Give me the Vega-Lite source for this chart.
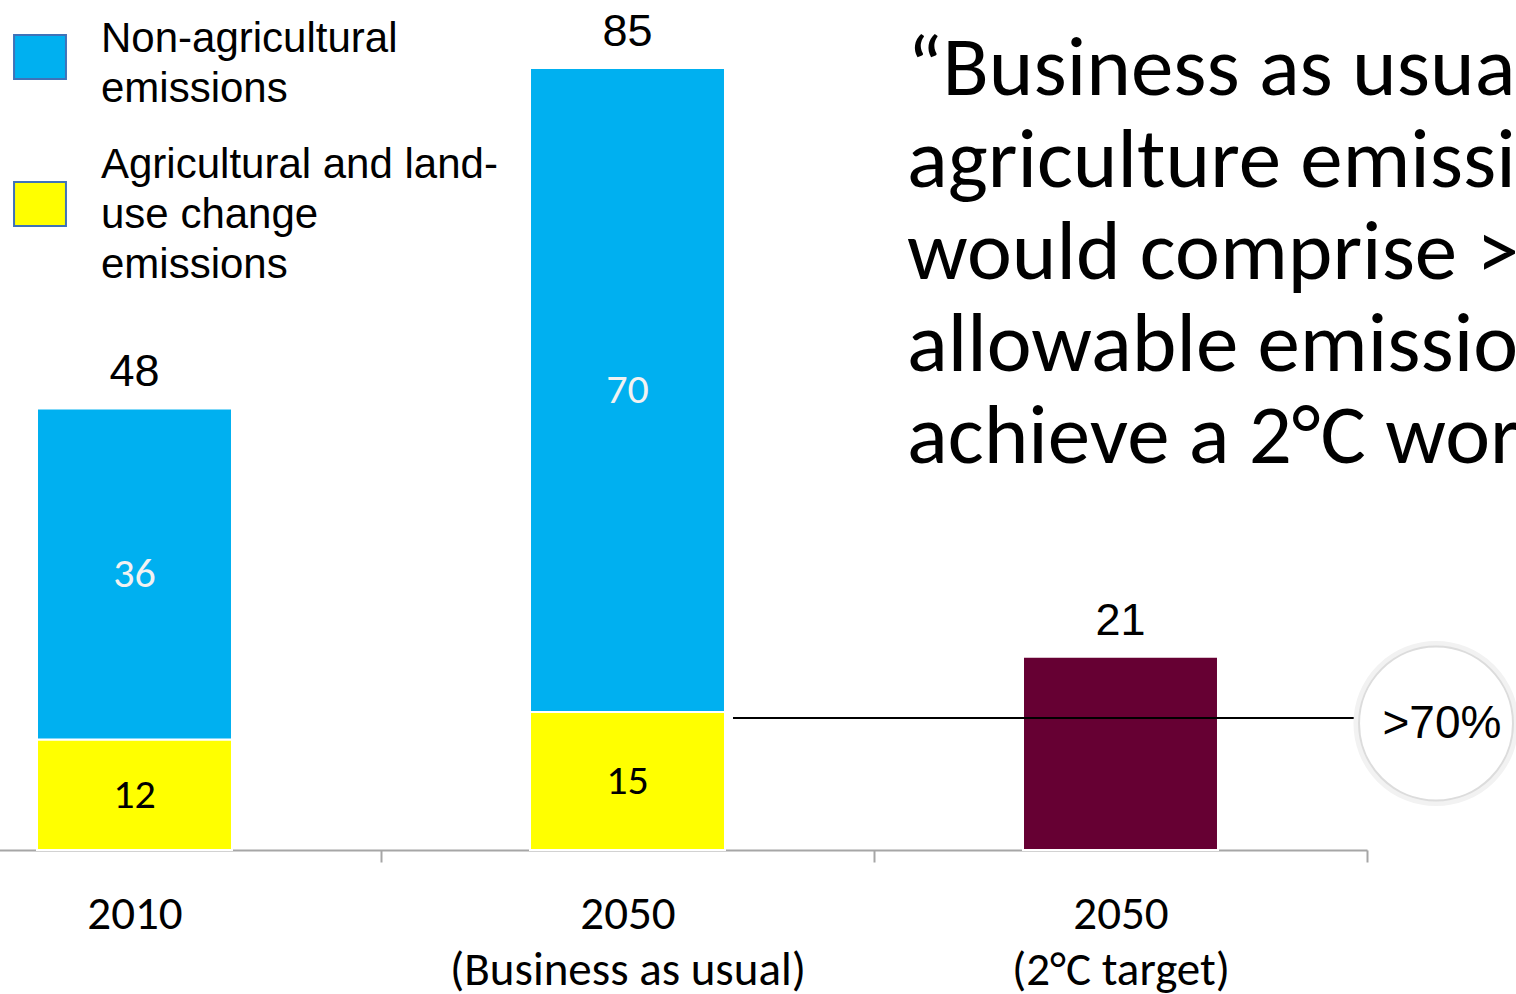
{
  "$schema": "https://vega.github.io/schema/vega-lite/v6.json",
  "width": 1479,
  "height": 850,
  "autosize": {"type": "none"},
  "padding": {"left": -112, "top": 0, "right": 149, "bottom": 144},
  "background": "white",
  "config": {
    "view": {"stroke": null},
    "font": "Liberation Sans",
    "style": {"guide-label": {"lineHeight": 50}}
  },
  "data": {
    "values": [
      {"period": "2010", "segment": "Agricultural and land-use change emissions", "value": 12},
      {"period": "2010", "segment": "Non-agricultural emissions", "value": 36},
      {"period": "2050 (Business as usual)", "segment": "Agricultural and land-use change emissions", "value": 15},
      {"period": "2050 (Business as usual)", "segment": "Non-agricultural emissions", "value": 70},
      {"period": "2050 (2°C target)", "segment": "Allowable emissions", "value": 21}
    ]
  },
  "resolve": {"scale": {"x": "independent"}},
  "layer": [
    {
      "layer": [
        {
          "mark": {"type": "bar", "stroke": "white", "strokeWidth": 2, "width": {"band": 0.3955}},
          "encoding": {
            "x": {
              "field": "period",
              "type": "nominal",
              "scale": {
                "domain": ["2010", "2050 (Business as usual)", "2050 (2°C target)"],
                "paddingInner": 0,
                "paddingOuter": 0
              },
              "axis": {
                "title": null,
                "labelAngle": 0,
                "tickBand": "extent",
                "domainColor": "#A6A6A6",
                "domainWidth": 2,
                "tickColor": "#A6A6A6",
                "tickWidth": 2,
                "tickSize": 12,
                "labelFont": "Carlito, Lato",
                "labelFontSize": 47,
                "labelColor": "black",
                "labelPadding": 29,
                "labelLineHeight": 56,
                "labelLimit": 600,
                "labelExpr": "split(replace(datum.label, ' (', '|('), '|')"
              }
            },
            "y": {
              "field": "value",
              "type": "quantitative",
              "stack": "zero",
              "scale": {"domain": [0, 92.4], "nice": false, "zero": true},
              "axis": null
            },
            "color": {
              "field": "segment",
              "type": "nominal",
              "scale": {
                "domain": ["Non-agricultural emissions", "Agricultural and land-use change emissions", "Allowable emissions"],
                "range": ["#00B0F0", "#FFFF00", "#660033"]
              },
              "legend": {
                "orient": "none",
                "legendX": 129,
                "legendY": 16,
                "title": null,
                "padding": 0,
                "values": ["Non-agricultural emissions", "Agricultural and land-use change emissions"],
                "symbolType": "M-1.18,0.27H1.18V2.27H-1.18Z",
                "symbolSize": 1936,
                "symbolStrokeColor": "#3F72B8",
                "symbolStrokeWidth": 2,
                "symbolOpacity": 1,
                "labelFont": "Liberation Sans",
                "labelFontSize": 42,
                "labelColor": "black",
                "labelLimit": 800,
                "labelOffset": 38,
                "rowPadding": 32,
                "labelExpr": "datum.label == 'Non-agricultural emissions' ? ['Non-agricultural', 'emissions'] : ['Agricultural and land-', 'use change', 'emissions']",
                "encode": {
                  "symbols": {
                    "update": {
                      "shape": [
                        {"test": "datum.value === 'Non-agricultural emissions'", "value": "M-1.18,-0.18H1.18V1.82H-1.18Z"},
                        {"value": "M-1.18,0.77H1.18V2.77H-1.18Z"}
                      ]
                    }
                  }
                }
              }
            },
            "order": {"field": "segment", "sort": "ascending"}
          }
        },
        {
          "transform": [{"filter": "datum.segment != 'Allowable emissions'"}],
          "mark": {"type": "text", "font": "Carlito, Lato", "fontSize": 42, "baseline": "middle"},
          "encoding": {
            "x": {"field": "period", "type": "nominal"},
            "y": {"field": "value", "type": "quantitative", "stack": "zero", "bandPosition": 0.5},
            "order": {"field": "segment", "sort": "ascending"},
            "text": {"field": "value"},
            "color": {
              "condition": {"test": "datum.segment == 'Non-agricultural emissions'", "value": "#F2F2F2"},
              "value": "black"
            }
          }
        },
        {
          "transform": [
            {"aggregate": [{"op": "sum", "field": "value", "as": "total"}], "groupby": ["period"]}
          ],
          "mark": {"type": "text", "font": "Liberation Sans", "fontSize": 45, "baseline": "alphabetic", "dy": -22, "color": "black"},
          "encoding": {
            "x": {"field": "period", "type": "nominal"},
            "y": {"field": "total", "type": "quantitative"},
            "text": {"field": "total"}
          }
        }
      ]
    },
    {
      "data": {"values": [{"share": ">70%"}]},
      "layer": [
        {
          "mark": {"type": "rule", "color": "black", "strokeWidth": 2},
          "encoding": {
            "x": {"datum": 1.714, "type": "quantitative", "scale": {"domain": [0, 3]}, "axis": null},
            "x2": {"datum": 2.981},
            "y": {"datum": 14.35, "type": "quantitative"}
          }
        },
        {
          "mark": {"type": "point", "shape": "circle", "filled": false, "fill": "white", "fillOpacity": 1, "stroke": "#F2F2F2", "strokeWidth": 7, "opacity": 1, "size": 25000},
          "encoding": {
            "x": {"datum": 3.14, "type": "quantitative"},
            "y": {"datum": 13.75, "type": "quantitative"}
          }
        },
        {
          "mark": {"type": "point", "shape": "circle", "filled": false, "fill": "white", "fillOpacity": 1, "stroke": "#DCDCDC", "strokeWidth": 2, "opacity": 1, "size": 23700},
          "encoding": {
            "x": {"datum": 3.14, "type": "quantitative"},
            "y": {"datum": 13.75, "type": "quantitative"}
          }
        },
        {
          "mark": {"type": "text", "font": "Liberation Sans", "fontSize": 46, "align": "center", "baseline": "alphabetic", "color": "black"},
          "encoding": {
            "x": {"datum": 3.152, "type": "quantitative"},
            "y": {"datum": 12.17, "type": "quantitative"},
            "text": {"field": "share"}
          }
        },
        {
          "mark": {"type": "text", "font": "Carlito, Lato", "fontSize": 85, "align": "left", "baseline": "alphabetic", "lineHeight": 92, "color": "black"},
          "encoding": {
            "x": {"datum": 2.067, "type": "quantitative"},
            "y": {"datum": 82.07, "type": "quantitative"},
            "text": {"value": ["“Business as usual”", "agriculture emissions", "would comprise >70% of", "allowable emissions to", "achieve a 2°C  world”"]}
          }
        }
      ]
    }
  ]
}
